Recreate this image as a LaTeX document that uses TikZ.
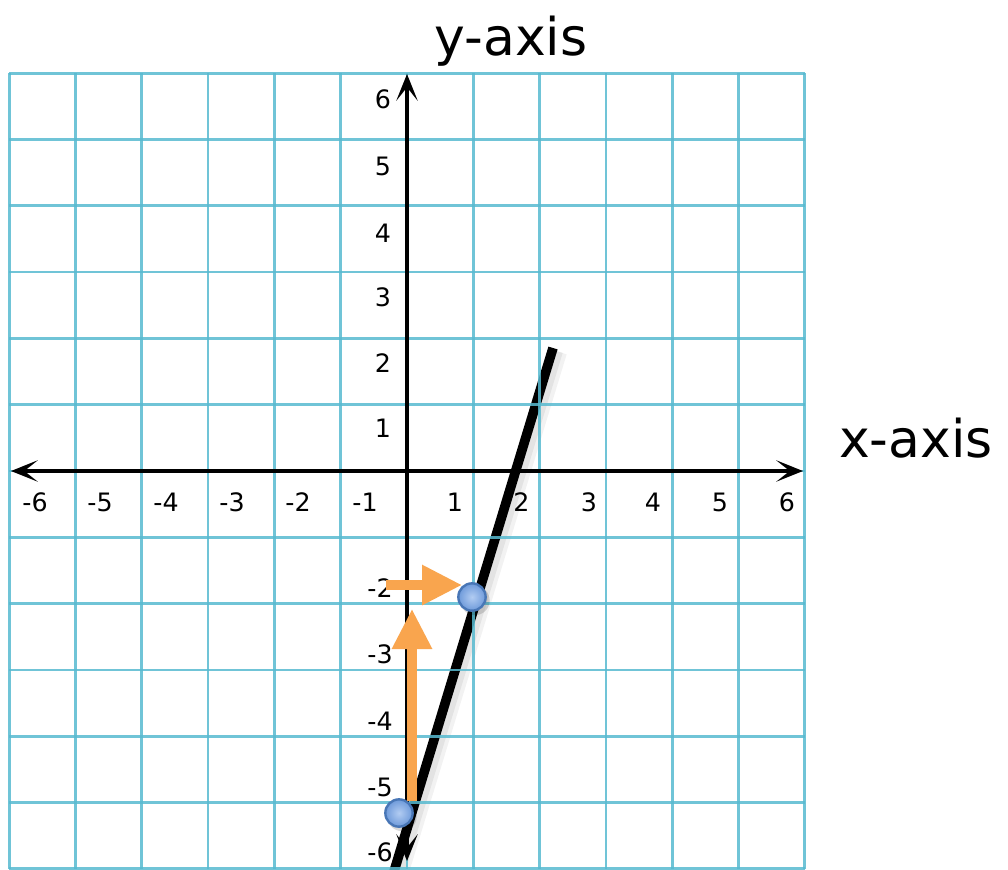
\documentclass[tikz,border=0pt]{standalone}
\usepackage{fontspec}
\setmainfont{DejaVu Sans}
\usetikzlibrary{arrows.meta}
\definecolor{gridcol}{RGB}{88,186,208}
\definecolor{arroworange}{RGB}{249,165,78}
\definecolor{dotin}{RGB}{178,204,242}
\definecolor{dotout}{RGB}{110,154,218}
\definecolor{dotedge}{RGB}{72,118,182}
\tikzset{
  gridline/.style={draw=gridcol, line width=2pt, opacity=0.85},
  axisline/.style={line width=2.7pt, black,
     arrows={Stealth[length=20pt,width=16pt,inset=10pt]-Stealth[length=20pt,width=16pt,inset=10pt]}},
  num/.style={inner sep=0pt, font=\fontsize{19}{19}\selectfont, text=black},
  axistitle/.style={inner sep=0pt, anchor=base, font=\fontsize{39}{39}\selectfont},
  graphline/.style={line width=7.2pt, black, line cap=butt},
  orangearrow/.style={draw=arroworange, line width=6.8pt,
     -{Triangle[length=30pt,width=28.5pt]}, arroworange},
  dot/.style={circle, minimum size=20.5pt, inner sep=0pt, draw=dotedge, line width=1.8pt,
     inner color=dotin, outer color=dotout}
}
\begin{document}
\begin{tikzpicture}[x=0.75pt,y=-0.75pt]
\useasboundingbox (0,0) rectangle (1008,869);
\fill[white] (0,0) rectangle (1008,869);

% graph line with soft shadow
\coordinate (ltop) at (553,348);
\coordinate (lbot) at (392,878);
\draw[line width=12pt, black, opacity=0.05, line cap=butt] (559,352) -- (399,878);
\draw[line width=9pt, black, opacity=0.06, line cap=butt] (557,351) -- (397,878);
\draw[graphline] (ltop) -- (lbot);

% grid
\foreach \i in {0,...,12} {
  \pgfmathsetmacro\gx{9.2+66.3*\i}
  \pgfmathsetmacro\gy{73.2+66.3*\i}
  \draw[gridline] (\gx,73.2) -- (\gx,868.8);
  \draw[gridline] (9.2,\gy) -- (804.8,\gy);
}

% axes
\coordinate (xl) at (11,471);
\coordinate (xr) at (803,471);
\coordinate (yt) at (407,74);
\coordinate (yb) at (407,861);
\draw[axisline] (xl) -- (xr);
\draw[axisline] (yb) -- (yt);

% x tick labels
\foreach \lab/\px [count=\k] in {-6/35,-5/100,-4/166,-3/232,-2/298,-1/365,1/455,2/521.5,3/589,4/653,5/720,6/787} {
  \node[num] (xlab\k) at (\px,502) {\lab};
}
% y tick labels
\foreach \lab/\py [count=\k] in {6/99,5/166,4/233,3/297,2/363,1/428} {
  \node[num] (yplab\k) at (383,\py) {\lab};
}
\foreach \lab/\py [count=\k] in {-2/588,-3/654,-4/721,-5/787,-6/852} {
  \node[num] (ynlab\k) at (380,\py) {\lab};
}

% titles
\node[axistitle] (ytitle) at (511,55) {y-axis};
\node[axistitle] (xtitle) at (916,457) {x-axis};

% orange arrows
\coordinate (vstart) at (412,801);
\coordinate (vend) at (412,609);
\coordinate (hstart) at (386,585);
\coordinate (hend) at (462,585);
\draw[orangearrow] (vstart) -- (vend);
\draw[orangearrow] (hstart) -- (hend);

% points
\fill[black, opacity=0.15] (475,600.5) circle (11pt);
\fill[black, opacity=0.15] (402,816.5) circle (11pt);
\node[dot] (p1) at (472,597) {};
\node[dot] (p2) at (399,813) {};
\end{tikzpicture}
\end{document}
